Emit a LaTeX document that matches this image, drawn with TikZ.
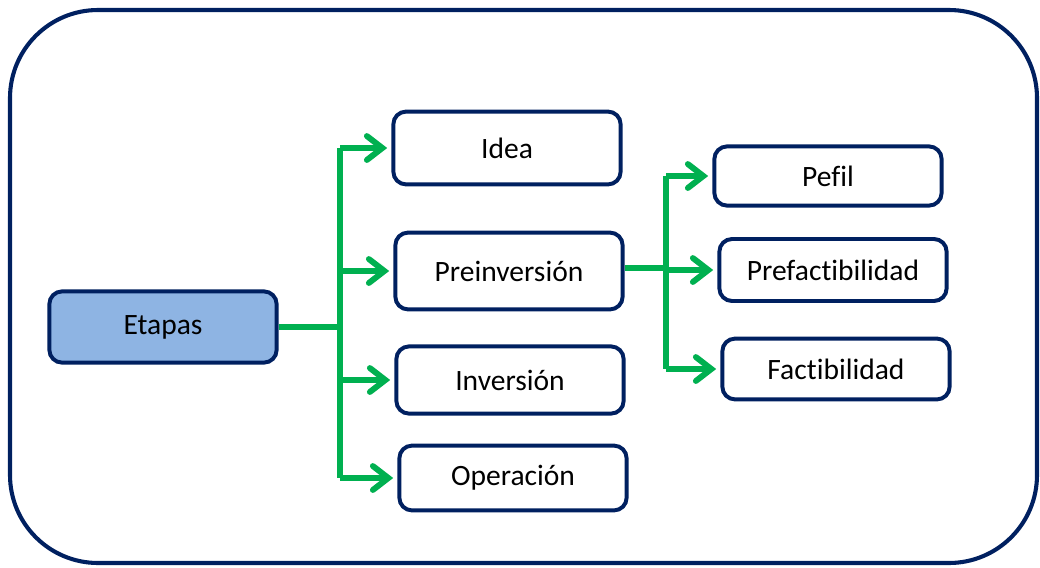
\documentclass[tikz,border=0pt]{standalone}
\usepackage{fontspec}
\setmainfont{Carlito}[Ligatures=CommonOff]
\usetikzlibrary{arrows.meta}
\definecolor{navy}{RGB}{0,32,96}
\definecolor{leaf}{RGB}{0,176,80}
\definecolor{sky}{RGB}{142,180,227}

\begin{document}
\begin{tikzpicture}[
    x=0.025cm, y=-0.025cm,
    box/.style={draw=navy, line width=2.8pt, rounded corners=9pt, fill=white,
        minimum width=5.68cm, align=center, font=\fontsize{21}{25}\selectfont},
    link/.style={draw=leaf, line width=4.2pt},
    arr/.style={link, -{Straight Barb[length=11pt, width=17pt, line cap=round]}, shorten >=3pt}
]
\useasboundingbox (0,0) rectangle (1040,567);
% Frame
\draw[navy, line width=2.9pt, rounded corners=2.2cm] (10,10) rectangle (1037,563);
% Root
\node[box, fill=sky, minimum height=1.78cm] (etapas) at (163,327) {Etapas};
% Stages
\node[box, minimum height=1.82cm] (idea) at (507,148) {Idea};
\node[box, minimum height=1.92cm] (preinv) at (509,271) {Preinversión};
\node[box, minimum height=1.68cm] (inv) at (510,380) {Inversión};
\node[box, minimum height=1.62cm] (oper) at (513,478) {Operación};
% Preinvestment studies
\node[box, minimum height=1.48cm] (pefil) at (828,176) {Pefil};
\node[box, minimum height=1.55cm] (prefact) at (833,270) {Prefactibilidad};
\node[box, minimum height=1.52cm] (fact) at (836,369) {Factibilidad};

% Branch to the stages
\coordinate (j1) at (340,327);
\draw[link] (etapas) -- (j1);
\draw[link] (j1 |- idea) -- (j1 |- oper);
\foreach \n in {idea, preinv, inv, oper}
    \draw[arr] (j1 |- \n) -- (\n);

% Branch to the studies
\coordinate (j2) at (666,268);
\draw[link] (preinv.east |- j2) -- (j2);
\draw[link] (j2 |- pefil) -- (j2 |- fact);
\foreach \n in {pefil, prefact, fact}
    \draw[arr] (j2 |- \n) -- (\n);
\end{tikzpicture}
\end{document}
